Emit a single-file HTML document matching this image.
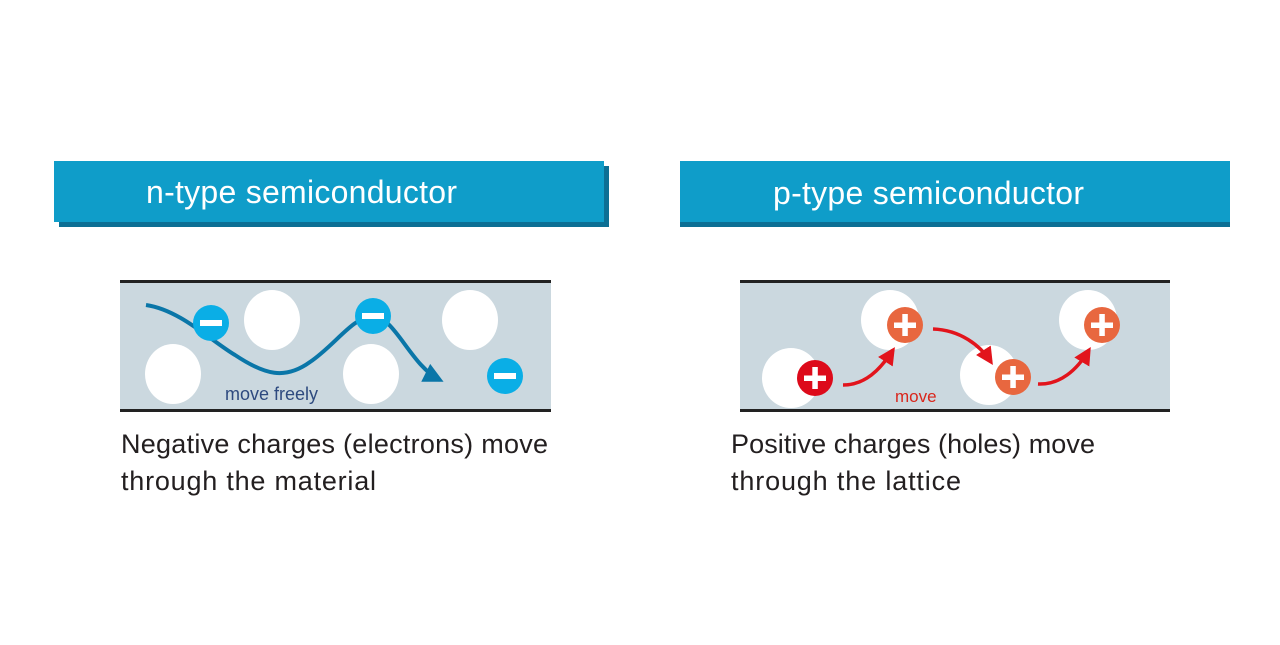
<!DOCTYPE html>
<html><head><style>
body{margin:0;width:1280px;height:640px;background:#fff;overflow:hidden;font-family:"Liberation Sans","DejaVu Sans",sans-serif;}
</style></head><body>
<svg width="1280" height="640" viewBox="0 0 1280 640" xmlns="http://www.w3.org/2000/svg">
<defs>
<marker id="ab" viewBox="0 0 10 10" refX="8" refY="5" markerWidth="5" markerHeight="5" orient="auto"><path d="M0,0 L10,5 L0,10 z" fill="#0a76a8"/></marker>
<marker id="ar" viewBox="0 0 10 10" refX="8" refY="5" markerWidth="5" markerHeight="5" orient="auto"><path d="M0,0 L10,5 L0,10 z" fill="#e2141c"/></marker>
</defs>
<rect x="59" y="166" width="550" height="61" fill="#0d6f94"/>
<rect x="54" y="161" width="550" height="61" fill="#0f9dc9"/>
<text x="146" y="203" font-size="32" fill="#fff" textLength="311">n-type semiconductor</text>
<rect x="680" y="166" width="550" height="61" fill="#0d6f94"/>
<rect x="680" y="161" width="550" height="61" fill="#0f9dc9"/>
<text x="773" y="204" font-size="32" fill="#fff" textLength="311">p-type semiconductor</text>
<rect x="120" y="282" width="431" height="128" fill="#cbd8df"/>
<rect x="120" y="280" width="431" height="3" fill="#222"/>
<rect x="120" y="409" width="431" height="3" fill="#222"/>
<ellipse cx="272" cy="320" rx="28" ry="30" fill="#fff"/>
<ellipse cx="173" cy="374" rx="28" ry="30" fill="#fff"/>
<ellipse cx="371" cy="374" rx="28" ry="30" fill="#fff"/>
<ellipse cx="470" cy="320" rx="28" ry="30" fill="#fff"/>
<path d="M146,305 C180,310 210,340 235,355 C265,375 285,380 310,362 C335,345 352,318 372,316 C395,316 410,365 440,380" fill="none" stroke="#0a76a8" stroke-width="4" marker-end="url(#ab)"/>
<g fill="#0aaee6"><circle cx="211" cy="323" r="18"/><circle cx="373" cy="316" r="18"/><circle cx="505" cy="376" r="18"/></g>
<g fill="#fff"><rect x="200" y="320" width="22" height="6"/><rect x="362" y="313" width="22" height="6"/><rect x="494" y="373" width="22" height="6"/></g>
<text x="225" y="400" font-size="18" fill="#2e4a7f">move freely</text>
<rect x="740" y="282" width="430" height="128" fill="#cbd8df"/>
<rect x="740" y="280" width="430" height="3" fill="#222"/>
<rect x="740" y="409" width="430" height="3" fill="#222"/>
<ellipse cx="791" cy="378" rx="29" ry="30" fill="#fff"/>
<ellipse cx="890" cy="320" rx="29" ry="30" fill="#fff"/>
<ellipse cx="989" cy="375" rx="29" ry="30" fill="#fff"/>
<ellipse cx="1088" cy="320" rx="29" ry="30" fill="#fff"/>
<circle cx="815" cy="378" r="18" fill="#dd0a1a"/>
<g fill="#e8673f"><circle cx="905" cy="325" r="18"/><circle cx="1013" cy="377" r="18"/><circle cx="1102" cy="325" r="18"/></g>
<g fill="#fff">
<rect x="804" y="375.5" width="22" height="5.5"/><rect x="812.3" y="367" width="5.5" height="22"/>
<rect x="894" y="322.5" width="22" height="5.5"/><rect x="902.3" y="314" width="5.5" height="22"/>
<rect x="1002" y="374.5" width="22" height="5.5"/><rect x="1010.3" y="366" width="5.5" height="22"/>
<rect x="1091" y="322.5" width="22" height="5.5"/><rect x="1099.3" y="314" width="5.5" height="22"/>
</g>
<g fill="none" stroke="#e2141c" stroke-width="3.5">
<path d="M843,385 C865,385 880,370 893,350" marker-end="url(#ar)"/>
<path d="M933,329 C960,330 980,345 991,362" marker-end="url(#ar)"/>
<path d="M1038,384 C1060,385 1077,370 1089,350" marker-end="url(#ar)"/>
</g>
<text x="895" y="402" font-size="17" fill="#d9261c">move</text>
<g font-size="27" fill="#231f20">
<text x="121" y="453" textLength="427">Negative charges (electrons) move</text>
<text x="121" y="490" textLength="255">through the material</text>
<text x="731" y="453" textLength="364">Positive charges (holes) move</text>
<text x="731" y="490" textLength="230">through the lattice</text>
</g>
</svg>
</body></html>
